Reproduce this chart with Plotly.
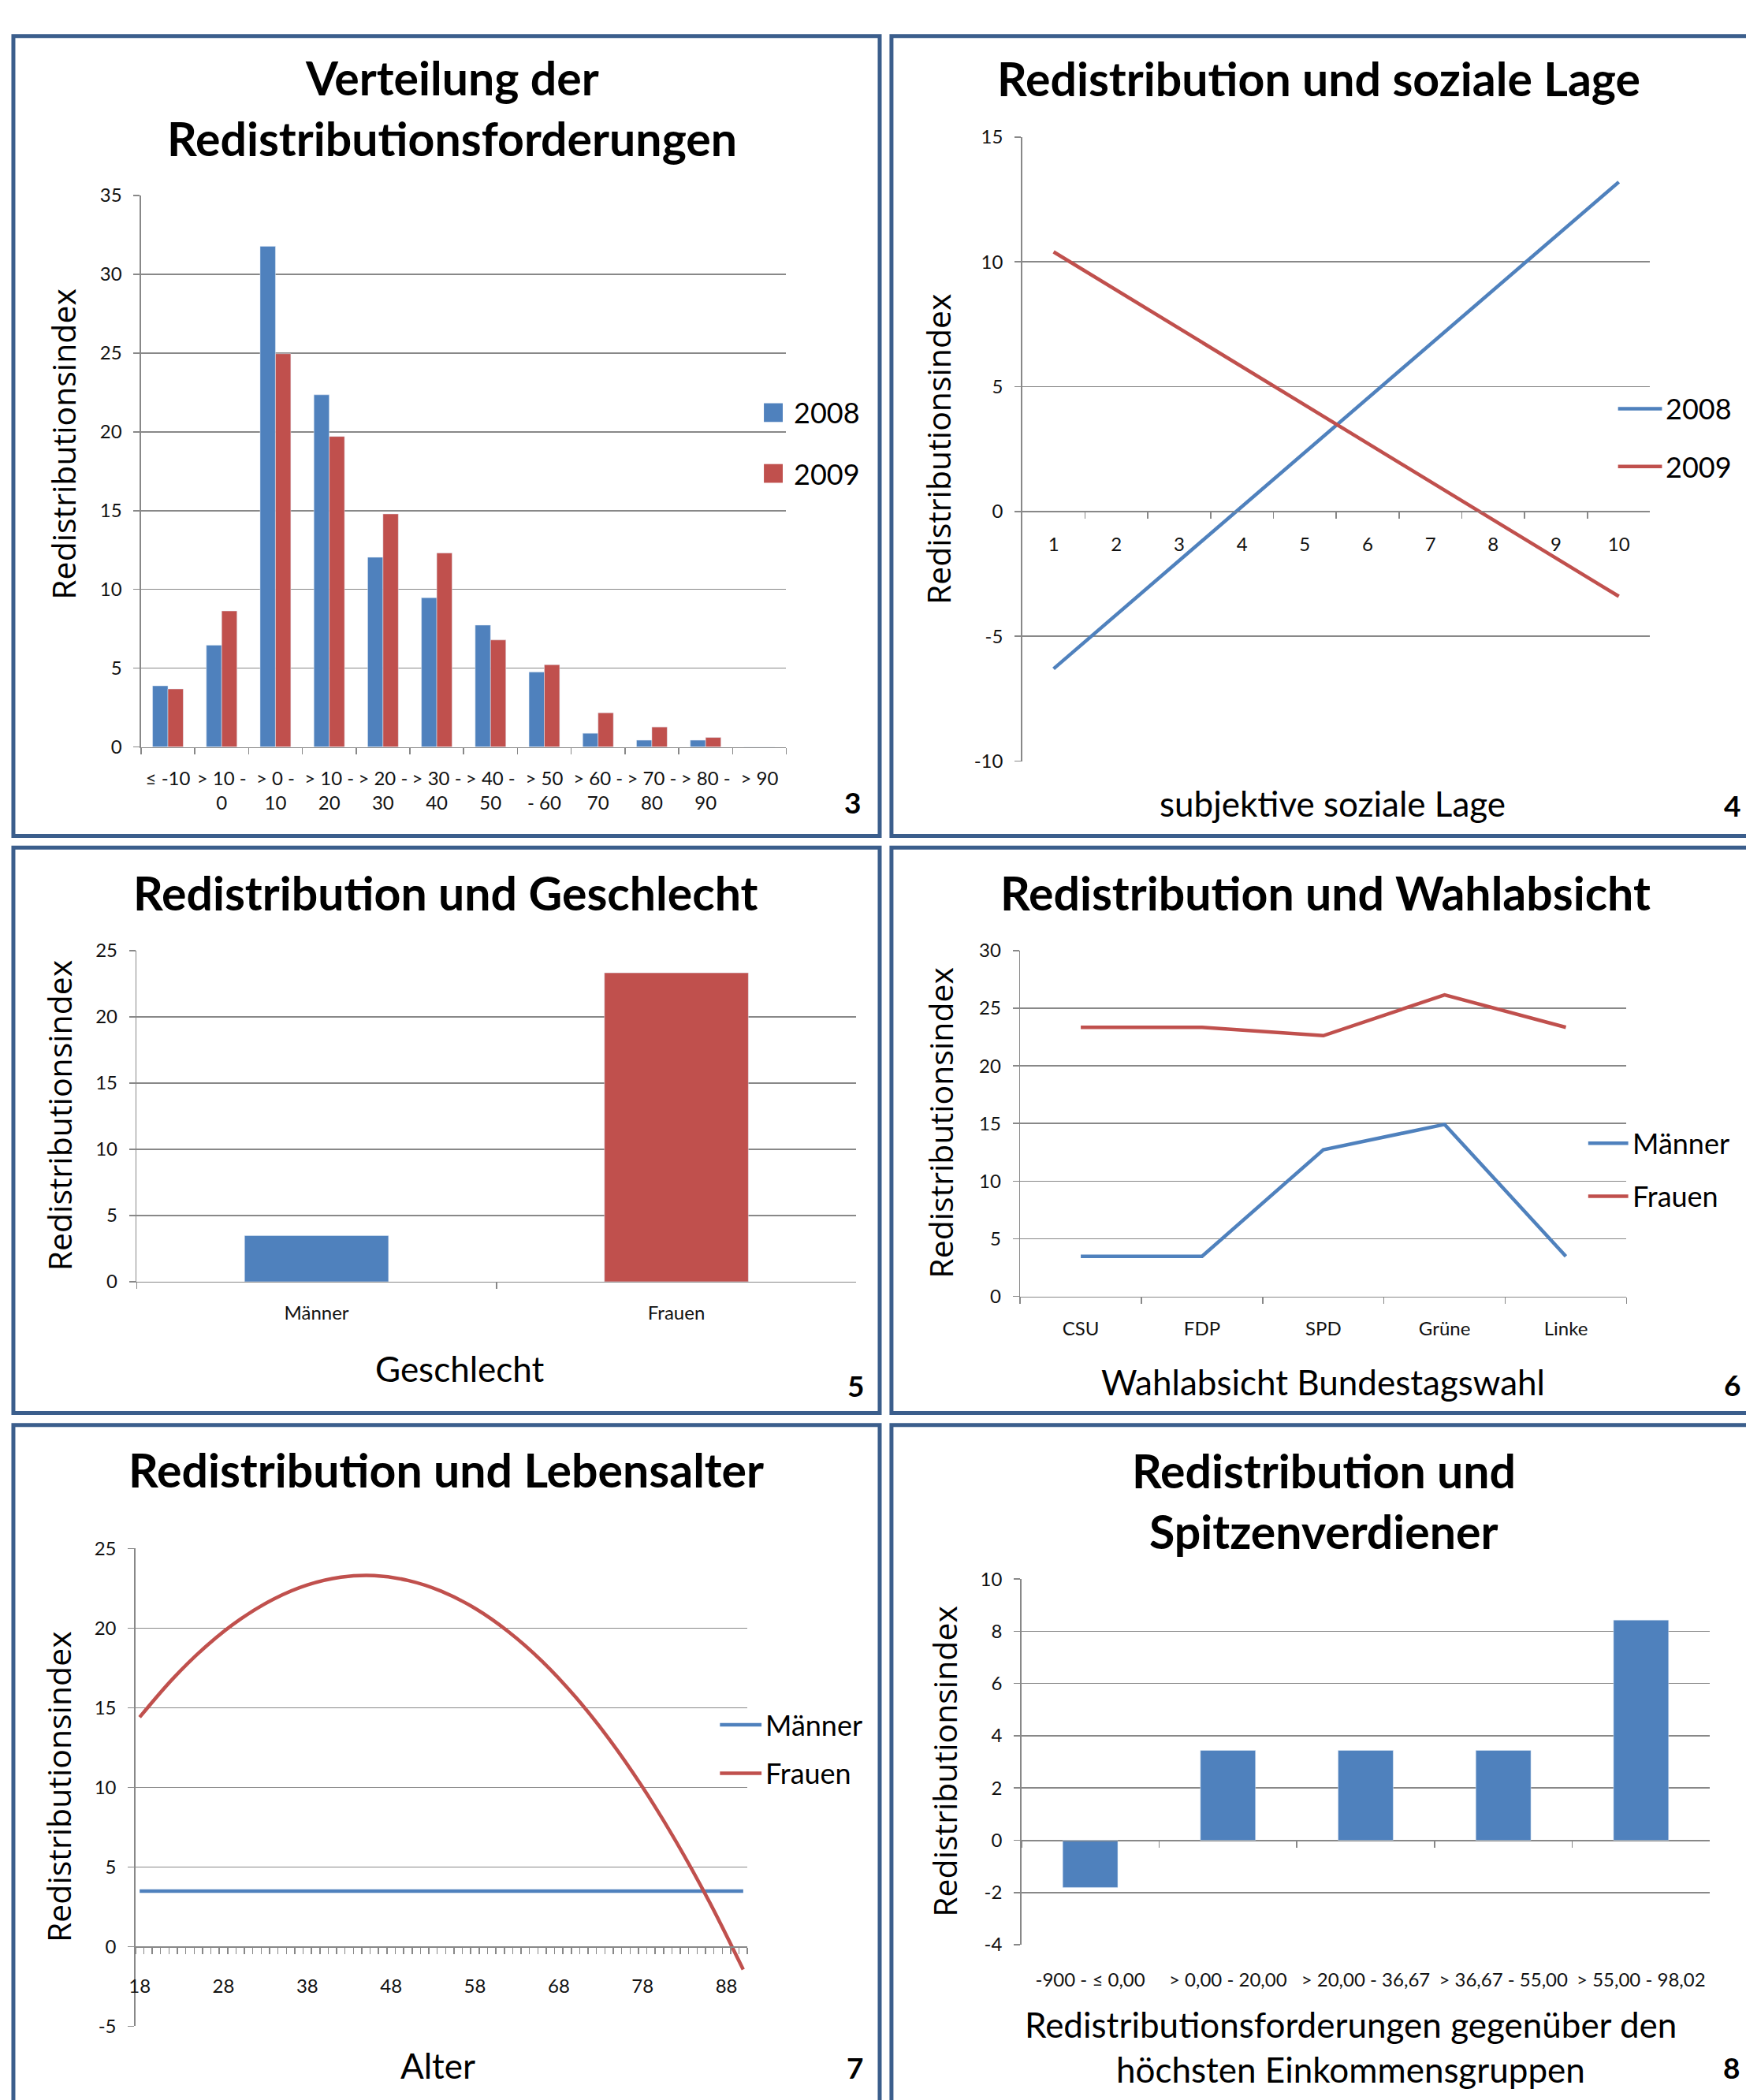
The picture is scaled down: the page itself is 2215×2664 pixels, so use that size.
import plotly.graph_objects as go

W, H = 2215, 2664
def xp(px): return px / W
def yp(py): return 1 - py / H

BLUE = "#4F81BD"
RED = "#C0504D"
GRID = "#888888"
BORDER = "#3B5E8C"
FONT = "Lato"
YFONT = "Open Sans"

# ---------------- data ----------------
dist_categories = ["≤ -10", "> 10 -<br>0", "> 0 -<br>10", "> 10 -<br>20", "> 20 -<br>30",
                   "> 30 -<br>40", "> 40 -<br>50", "> 50<br>- 60", "> 60 -<br>70",
                   "> 70 -<br>80", "> 80 -<br>90", "> 90"]
dist_2008 = [3.88, 6.46, 31.78, 22.35, 12.04, 9.47, 7.73, 4.75, 0.87, 0.43, 0.43, 0.0]
dist_2009 = [3.68, 8.63, 24.96, 19.71, 14.79, 12.31, 6.79, 5.22, 2.17, 1.27, 0.60, 0.0]

lage_categories = ["1", "2", "3", "4", "5", "6", "7", "8", "9", "10"]
lage_2008 = [-6.3, -4.13, -1.97, 0.2, 2.37, 4.53, 6.7, 8.87, 11.03, 13.2]
lage_2009 = [10.4, 8.87, 7.33, 5.8, 4.27, 2.73, 1.2, -0.33, -1.87, -3.4]

gender_categories = ["Männer", "Frauen"]
gender_values = [3.48, 23.32]

party_categories = ["CSU", "FDP", "SPD", "Grüne", "Linke"]
party_maenner = [3.48, 3.48, 12.72, 14.92, 3.48]
party_frauen = [23.34, 23.34, 22.62, 26.16, 23.34]

age_values = [18, 22, 26, 30, 34, 38, 42, 46, 50, 54, 58, 62, 66, 70, 74, 78, 82, 86, 90]
age_frauen = [14.4, 16.84, 18.89, 20.55, 21.82, 22.7, 23.19, 23.29, 22.99, 22.31,
              21.24, 19.77, 17.92, 15.67, 13.03, 10.0, 6.58, 2.77, -1.45]
age_maenner = [3.48] * len(age_values)
age_ticks = [18, 28, 38, 48, 58, 68, 78, 88]

income_categories = ["-900 - ≤ 0,00", "> 0,00 - 20,00", "> 20,00 - 36,67",
                     "> 36,67 - 55,00", "> 55,00 - 98,02"]
income_values = [-1.81, 3.44, 3.44, 3.44, 8.43]

# y tick values per panel (plain hyphen minus as in the original)
y_ticks_dist = [0, 5, 10, 15, 20, 25, 30, 35]
y_ticks_lage = [-10, -5, 0, 5, 10, 15]
y_ticks_gender = [0, 5, 10, 15, 20, 25]
y_ticks_party = [0, 5, 10, 15, 20, 25, 30]
y_ticks_age = [-5, 0, 5, 10, 15, 20, 25]
y_ticks_income = [-4, -2, 0, 2, 4, 6, 8, 10]

# ---------------- figure ----------------
fig = go.Figure()

# panel 3: distribution
fig.add_trace(go.Bar(x=dist_categories, y=dist_2008, name="2008", marker_color=BLUE,
                     width=0.285, offset=-0.285, xaxis="x", yaxis="y", showlegend=False))
fig.add_trace(go.Bar(x=dist_categories, y=dist_2009, name="2009", marker_color=RED,
                     width=0.285, offset=0.0, xaxis="x", yaxis="y", showlegend=False))
# panel 4: soziale Lage
fig.add_trace(go.Scatter(x=lage_categories, y=lage_2008, name="2008", mode="lines",
                         line=dict(color=BLUE, width=4.5), xaxis="x2", yaxis="y2", showlegend=False))
fig.add_trace(go.Scatter(x=lage_categories, y=lage_2009, name="2009", mode="lines",
                         line=dict(color=RED, width=4.5), xaxis="x2", yaxis="y2", showlegend=False))
# panel 5: Geschlecht
fig.add_trace(go.Bar(x=gender_categories, y=gender_values, marker_color=[BLUE, RED],
                     width=0.4, offset=-0.2, xaxis="x3", yaxis="y3", showlegend=False))
# panel 6: Wahlabsicht
fig.add_trace(go.Scatter(x=party_categories, y=party_maenner, name="Männer", mode="lines",
                         line=dict(color=BLUE, width=4.5), xaxis="x4", yaxis="y4", showlegend=False))
fig.add_trace(go.Scatter(x=party_categories, y=party_frauen, name="Frauen", mode="lines",
                         line=dict(color=RED, width=4.5), xaxis="x4", yaxis="y4", showlegend=False))
# panel 7: Lebensalter
fig.add_trace(go.Scatter(x=age_values, y=age_maenner, name="Männer", mode="lines",
                         line=dict(color=BLUE, width=4.5), xaxis="x5", yaxis="y5", showlegend=False))
fig.add_trace(go.Scatter(x=age_values, y=age_frauen, name="Frauen", mode="lines",
                         line=dict(color=RED, width=4.5, shape="spline", smoothing=1.0),
                         xaxis="x5", yaxis="y5", showlegend=False))
# panel 8: Spitzenverdiener
fig.add_trace(go.Bar(x=income_categories, y=income_values, marker_color=BLUE,
                     width=0.4, offset=-0.2, xaxis="x6", yaxis="y6", showlegend=False))
# helper trace so that the zero-line category axis of panel 8 exists
fig.add_trace(go.Scatter(x=income_categories, y=[None] * 5, mode="lines", xaxis="x7", yaxis="y6",
                         showlegend=False, hoverinfo="skip"))

tickfont = dict(family=FONT, size=24, color="#111111")

def yax(top, bottom, ticks, xanchor):
    return dict(domain=[yp(bottom), yp(top)], range=[ticks[0], ticks[-1]],
                tickmode="array", tickvals=ticks, ticktext=[str(t) for t in ticks],
                showgrid=True, gridcolor=GRID, gridwidth=1.5, zeroline=False,
                showline=True, linecolor=GRID, linewidth=1.5,
                ticks="outside", ticklen=8, tickcolor=GRID, tickwidth=1.5,
                tickfont=tickfont, ticklabelstandoff=10, anchor=xanchor, fixedrange=True)

def xcat(left, right, n, yanchor, **kw):
    d = dict(domain=[xp(left), xp(right)], type="category", range=[-0.5, n - 0.5],
             showgrid=False, zeroline=False, showline=True, linecolor=GRID, linewidth=1.5,
             ticks="outside", ticklen=8, tickcolor=GRID, tickwidth=1.5, tickson="boundaries",
             tickfont=tickfont, tickangle=0, anchor=yanchor, fixedrange=True)
    d.update(kw)
    return d

layout = dict(
    width=W, height=H, autosize=False,
    margin=dict(l=0, r=0, t=0, b=0),
    paper_bgcolor="white", plot_bgcolor="white",
    barmode="overlay",
    font=dict(family=FONT, color="#000000"),
)

# panel 3
layout["xaxis"] = xcat(170.6, 992.5, 12, "y", ticklabelstandoff=18)
layout["yaxis"] = yax(234.6, 941.8, y_ticks_dist, "x")
# panel 4
layout["xaxis2"] = xcat(1293, 2093, 10, "free", position=yp(639.8), ticklabelstandoff=20)
layout["yaxis2"] = yax(159.6, 960, y_ticks_lage, "x2")
# panel 5
layout["xaxis3"] = xcat(165, 1081.7, 2, "y3", ticklabelstandoff=18)
layout["yaxis3"] = yax(1203, 1627.6, y_ticks_gender, "x3")
# panel 6
layout["xaxis4"] = xcat(1290.4, 2062.8, 5, "y4", ticklabelstandoff=19)
layout["yaxis4"] = yax(1203, 1646.5, y_ticks_party, "x4")
# panel 7
layout["xaxis5"] = dict(domain=[xp(163.5), xp(943)], range=[17.5, 90.5], tickmode="array",
                        tickvals=age_ticks, showgrid=False, zeroline=False,
                        showline=True, linecolor=GRID, linewidth=1.5,
                        ticks="outside", ticklen=8, tickcolor="rgba(0,0,0,0)",
                        minor=dict(tickmode="linear", tick0=17.5, dtick=1, ticks="outside",
                                   ticklen=8, tickcolor=GRID, tickwidth=1.5, showgrid=False),
                        tickfont=tickfont, tickangle=0, anchor="free", position=yp(2480.4),
                        ticklabelstandoff=20, fixedrange=True)
layout["yaxis5"] = yax(1969.7, 2582.4, y_ticks_age, "x5")
# panel 8
layout["xaxis6"] = xcat(1292, 2169, 5, "y6", showline=False, ticks="", ticklabelstandoff=28)
layout["yaxis6"] = yax(2009, 2478, y_ticks_income, "x6")
layout["xaxis7"] = xcat(1292, 2169, 5, "free", overlaying="x6", position=yp(2344.4),
                        showticklabels=False)

# ---------------- annotations ----------------
ann = []
def txt(x, y, s, size, bold=False, family=FONT, xanchor="center", angle=0):
    ann.append(dict(x=xp(x), y=yp(y), xref="paper", yref="paper", text=("<b>%s</b>" % s) if bold else s,
                    showarrow=False, xanchor=xanchor, yanchor="middle", textangle=angle,
                    font=dict(family=family, size=size, color="#000000")))

TS = 59
# titles
txt(567, 83, "Verteilung der", TS, True)
txt(567, 161, "Redistributionsforderungen", TS, True)
txt(1671, 84, "Redistribution und soziale Lage", TS, True)
txt(559, 1129, "Redistribution und Geschlecht", TS, True)
txt(1679, 1129, "Redistribution und Wahlabsicht", TS, True)
txt(559, 1869, "Redistribution und Lebensalter", TS, True)
txt(1677, 1870, "Redistribution und", TS, True)
txt(1677, 1948, "Spitzenverdiener", TS, True)

# y axis titles
YS = 41
for (x, y) in [(71, 553), (1186, 560), (66, 1414), (1189, 1424), (65, 2275), (1193, 2243)]:
    txt(x, y, "Redistributionsindex", YS, family=YFONT, angle=-90)

# x axis titles
XS = 44
txt(1688, 1014, "subjektive soziale Lage", XS)
txt(577, 1739, "Geschlecht", XS)
txt(1676, 1756, "Wahlabsicht Bundestagswahl", XS)
txt(549, 2633, "Alter", XS)
txt(1711, 2580, "Redistributionsforderungen gegenüber den", XS)
txt(1711, 2638, "höchsten Einkommensgruppen", XS)

# panel numbers
NS = 37
for (x, y, s) in [(1077, 1013, "3"), (2197, 1017, "4"), (1081, 1761, "5"),
                  (2197, 1760, "6"), (1080, 2635, "7"), (2196, 2635, "8")]:
    txt(x, y, s, NS, True)

# legends (drawn as shapes + text)
shapes = []
LS = 36
def leg_square(x, y, color, label):
    shapes.append(dict(type="rect", xref="paper", yref="paper", x0=xp(x - 12), x1=xp(x + 12),
                       y0=yp(y + 12), y1=yp(y - 12), fillcolor=color, line=dict(width=0)))
    txt(x + 24, y, label, LS, xanchor="left")

def leg_line(x0, x1, y, color, label):
    shapes.append(dict(type="line", xref="paper", yref="paper", x0=xp(x0), x1=xp(x1),
                       y0=yp(y), y1=yp(y), line=dict(color=color, width=4.5)))
    txt(x1 + 3, y, label, LS, xanchor="left")

leg_square(976, 513, BLUE, "2008")
leg_square(976, 591, RED, "2009")
leg_line(2052, 2108, 508, BLUE, "2008")
leg_line(2052, 2108, 582, RED, "2009")
leg_line(2014, 2065, 1450, BLUE, "Männer")
leg_line(2014, 2065, 1518, RED, "Frauen")
leg_line(908, 961, 2196, BLUE, "Männer")
leg_line(908, 961, 2258, RED, "Frauen")

# panel borders
def border(x0, y0, x1, y1):
    shapes.append(dict(type="rect", xref="paper", yref="paper", x0=xp(x0), x1=xp(x1),
                       y0=yp(y1), y1=yp(y0), line=dict(color=BORDER, width=5),
                       fillcolor="rgba(0,0,0,0)", layer="above"))

border(8, 30, 1111.5, 1056)
border(1126.5, 30, 2245, 1056)
border(8, 1071, 1111.5, 1796)
border(1126.5, 1071, 2245, 1796)
border(8, 1811.5, 1111.5, 2700)
border(1126.5, 1811.5, 2245, 2700)

layout["annotations"] = ann
layout["shapes"] = shapes
fig.update_layout(**layout)

fig.write_html("out.html", config={"displayModeBar": False, "staticPlot": True},
               post_script="document.body.style.margin='0';document.body.style.overflow='hidden';")
